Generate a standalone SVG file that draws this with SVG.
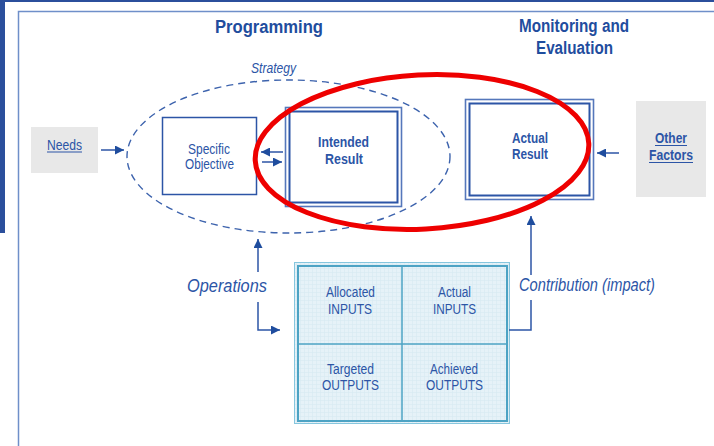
<svg xmlns="http://www.w3.org/2000/svg" width="714" height="446" viewBox="0 0 714 446">
<defs>
<style>
.t{font-family:"Liberation Sans",Arial,sans-serif;fill:#2c55a6;text-anchor:middle}
.b{font-weight:bold}
.h{font-family:"Liberation Sans",Arial,sans-serif;fill:#1f4d9e;font-weight:bold;text-anchor:middle;font-size:18px}
.i{font-style:italic}
.c{stroke:#2c55a6;stroke-width:1.5;fill:none}
.g{fill:#e8e8e8}
.ul{stroke:#2c55a6;stroke-width:1}
.ob{fill:#fff;stroke:#5577bb;stroke-width:1.6}
.ib{fill:none;stroke:#2c55a6;stroke-width:2}
</style>
<marker id="ah" viewBox="0 0 10 10" refX="10" refY="5" markerWidth="9" markerHeight="9" markerUnits="userSpaceOnUse" orient="auto">
<path d="M0,0 L10,5 L0,10 z" fill="#1f4d9e"/>
</marker>
<pattern id="grid" width="4" height="4" patternUnits="userSpaceOnUse">
<rect width="4" height="4" fill="#e6f2f8"/>
<path d="M0,0.5 H4 M0.5,0 V4" stroke="#d6e9f2" stroke-width="0.6"/>
</pattern>
</defs>
<rect width="714" height="446" fill="#ffffff"/>
<g id="frame">
<rect x="0" y="0" width="714" height="2" fill="#2b4f9c"/>
<rect x="0" y="0" width="5" height="233" fill="#2b4f9c"/>
<path d="M18.5,446 V11.5 H714" fill="none" stroke="#6f8fc9" stroke-width="1.5"/>
</g>
<g id="titles">
<text class="h" x="269" y="33" textLength="108" lengthAdjust="spacingAndGlyphs">Programming</text>
<text class="h" x="574" y="32" textLength="110" lengthAdjust="spacingAndGlyphs">Monitoring and</text>
<text class="h" x="574.5" y="54" textLength="77" lengthAdjust="spacingAndGlyphs">Evaluation</text>
</g>
<g id="strategy">
<ellipse cx="288.5" cy="156.5" rx="161.5" ry="76.5" fill="none" stroke="#3d63ad" stroke-width="1.4" stroke-dasharray="7,5"/>
<text class="t i" x="273.5" y="73" font-size="14" textLength="45" lengthAdjust="spacingAndGlyphs">Strategy</text>
</g>
<g id="needs">
<rect class="g" x="31" y="127" width="67" height="46"/>
<text class="t" x="64.5" y="150" font-size="14" textLength="35" lengthAdjust="spacingAndGlyphs">Needs</text>
<line class="ul" x1="47" y1="152" x2="82" y2="152"/>
</g>
<g id="specific-objective">
<rect x="162.5" y="117.5" width="94" height="77" fill="#fff" stroke="#2c55a6" stroke-width="1.5"/>
<text class="t" x="209" y="154" font-size="14" textLength="42" lengthAdjust="spacingAndGlyphs">Specific</text>
<text class="t" x="209.5" y="169" font-size="14" textLength="49" lengthAdjust="spacingAndGlyphs">Objective</text>
</g>
<g id="intended-result">
<rect class="ob" x="285.5" y="107.5" width="116" height="99"/>
<rect class="ib" x="289.5" y="111.5" width="108" height="91"/>
<text class="t b" x="343.5" y="147" font-size="14" textLength="51" lengthAdjust="spacingAndGlyphs">Intended</text>
<text class="t b" x="344" y="164" font-size="14" textLength="38" lengthAdjust="spacingAndGlyphs">Result</text>
</g>
<g id="actual-result">
<rect class="ob" x="465.5" y="99.5" width="128" height="100"/>
<rect class="ib" x="469.5" y="103.5" width="120" height="92"/>
<text class="t b" x="530" y="143" font-size="14" textLength="36" lengthAdjust="spacingAndGlyphs">Actual</text>
<text class="t b" x="530" y="159" font-size="14" textLength="36" lengthAdjust="spacingAndGlyphs">Result</text>
</g>
<g id="other-factors">
<rect class="g" x="636" y="101" width="70" height="96"/>
<text class="t b" x="671" y="143" font-size="14" textLength="32" lengthAdjust="spacingAndGlyphs">Other</text>
<line class="ul" x1="655" y1="145.5" x2="687" y2="145.5"/>
<text class="t b" x="671" y="160" font-size="14" textLength="44" lengthAdjust="spacingAndGlyphs">Factors</text>
<line class="ul" x1="649" y1="162.5" x2="693" y2="162.5"/>
</g>
<g id="inputs-outputs">
<rect x="294.5" y="262.5" width="215" height="161" fill="url(#grid)" stroke="#86c6de" stroke-width="1"/>
<rect x="298" y="266" width="209" height="155" fill="none" stroke="#4da3c4" stroke-width="2"/>
<line x1="402" y1="266" x2="402" y2="421" stroke="#4da3c4" stroke-width="1.5"/>
<line x1="298" y1="344" x2="507" y2="344" stroke="#4da3c4" stroke-width="1.5"/>
<text class="t" x="350.5" y="297" font-size="14" textLength="49" lengthAdjust="spacingAndGlyphs">Allocated</text>
<text class="t" x="350" y="314" font-size="14" textLength="44" lengthAdjust="spacingAndGlyphs">INPUTS</text>
<text class="t" x="454.5" y="297" font-size="14" textLength="33" lengthAdjust="spacingAndGlyphs">Actual</text>
<text class="t" x="454.5" y="314" font-size="14" textLength="43" lengthAdjust="spacingAndGlyphs">INPUTS</text>
<text class="t" x="350.5" y="374" font-size="14" textLength="47" lengthAdjust="spacingAndGlyphs">Targeted</text>
<text class="t" x="350.5" y="390" font-size="14" textLength="57" lengthAdjust="spacingAndGlyphs">OUTPUTS</text>
<text class="t" x="454" y="374" font-size="14" textLength="48" lengthAdjust="spacingAndGlyphs">Achieved</text>
<text class="t" x="454.5" y="390" font-size="14" textLength="57" lengthAdjust="spacingAndGlyphs">OUTPUTS</text>
</g>
<g id="labels">
<text class="t i" x="227" y="292" font-size="19" textLength="80" lengthAdjust="spacingAndGlyphs">Operations</text>
<text class="t i" x="587" y="291" font-size="18" textLength="136" lengthAdjust="spacingAndGlyphs">Contribution (impact)</text>
</g>
<g id="connectors">
<line class="c" x1="101" y1="150" x2="124" y2="150" marker-end="url(#ah)"/>
<line class="c" x1="283" y1="152" x2="261" y2="152" marker-end="url(#ah)"/>
<line class="c" x1="262" y1="162" x2="282" y2="162" marker-end="url(#ah)"/>
<line class="c" x1="619" y1="153" x2="597" y2="153" marker-end="url(#ah)"/>
<line class="c" x1="258" y1="272" x2="258" y2="239" marker-end="url(#ah)"/>
<polyline class="c" points="258,302 258,330 280,330" marker-end="url(#ah)"/>
<polyline class="c" points="509,330 531,330 531,300"/>
<line class="c" x1="531" y1="275" x2="531" y2="216" marker-end="url(#ah)"/>
</g>
<g id="highlight">
<ellipse cx="422" cy="152" rx="167" ry="77" transform="rotate(-3 422 152)" fill="none" stroke="#ee0000" stroke-width="5"/>
</g>
</svg>
